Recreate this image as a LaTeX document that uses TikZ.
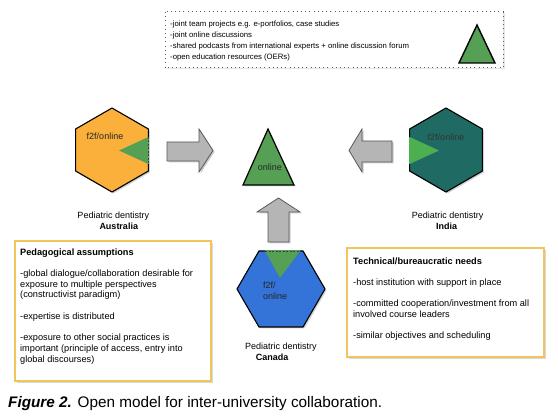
\documentclass[tikz,border=0pt]{standalone}
\usepackage{fontspec}
\setmainfont{Liberation Sans}
\usetikzlibrary{shadows}
\definecolor{ausorange}{HTML}{FBB03B}
\definecolor{indteal}{HTML}{1F6A63}
\definecolor{canblue}{HTML}{3473D8}
\definecolor{tgreen}{HTML}{55A055}
\definecolor{tgreenlight}{HTML}{4CAF50}
\definecolor{arrgray}{HTML}{B5B5B5}
\definecolor{boxborder}{HTML}{F2C55C}
\begin{document}
\begin{tikzpicture}[x=1pt,y=-1pt,
  hexa/.style={draw=black, line width=1.1pt, line join=miter,
    drop shadow={shadow xshift=1.5pt, shadow yshift=-1.5pt, opacity=0.35}},
  greentri/.style={fill=tgreen},
  blockarrow/.style={fill=arrgray, draw=black!65, line width=0.8pt, line join=miter,
    drop shadow={shadow xshift=1.5pt, shadow yshift=-1.5pt, opacity=0.4}},
  infobox/.style={draw=boxborder, line width=1.3pt, fill=white,
    drop shadow={shadow xshift=2pt, shadow yshift=-2pt, opacity=0.3}},
  topbox/.style={draw=black!65, line width=1pt, dash pattern=on 1pt off 3.2pt, fill=white,
    drop shadow={shadow xshift=1.5pt, shadow yshift=-1.5pt, opacity=0.2}},
  boxtext/.style={anchor=base west, inner sep=0pt, font=\fontsize{9.2}{10.7}\selectfont},
  toptext/.style={anchor=base west, inner sep=0pt, font=\fontsize{7.75}{10}\selectfont},
  lbl/.style={anchor=base west, inner sep=0pt, font=\fontsize{9}{10}\selectfont},
  hextext/.style={inner sep=0pt, font=\fontsize{9}{10}\selectfont, text=black!85},
  dashedge/.style={black!75, line width=0.6pt, dash pattern=on 2pt off 1.5pt}
]
\useasboundingbox (0,0) rectangle (558,419);
\fill[white] (0,0) rectangle (558,419);

% ---------- top box ----------
\draw[topbox] (165,12) rectangle (503,68);
\node[toptext] (t1) at (170,26.5) {-joint team projects e.g. e-portfolios, case studies};
\node[toptext] (t2) at (170,37.3) {-joint online discussions};
\node[toptext] (t3) at (170,48.1) {-shared podcasts from international experts + online discussion forum};
\node[toptext] (t4) at (170,59.2) {-open education resources (OERs)};
\filldraw[fill=tgreen, draw=black, line width=1.4pt, line join=miter] (477,25) -- (495,63) -- (459,63) -- cycle;

% ---------- Australia ----------
\filldraw[hexa, fill=ausorange] (112,108) -- (148.4,129) -- (148.4,171) -- (112,192) -- (75.6,171) -- (75.6,129) -- cycle;
\fill[greentri] (148.4,137) -- (148.4,164) -- (119,150.5) -- cycle;
\draw[tgreen, line width=1.4pt] (148.4,137) -- (148.4,164);
\draw[dashedge] (148.4,137) -- (148.4,164);
\node[hextext] (ausf) at (105,136) {f2f/online};
\node[lbl] (ausl1) at (77.3,218.2) {Pediatric dentistry};
\node[lbl] (ausl2) at (99.3,229.2) {\textbf{Australia}};

% ---------- India ----------
\filldraw[hexa, fill=indteal] (446,108) -- (482.4,129) -- (482.4,171) -- (446,192) -- (409.6,171) -- (409.6,129) -- cycle;
\fill[tgreenlight] (409.6,137) -- (409.6,164) -- (439,150.5) -- cycle;
\draw[tgreenlight, line width=1.4pt] (409.6,137) -- (409.6,164);
\node[hextext, text=black!80] (indf) at (446,137) {f2f/online};
\node[lbl] (indl1) at (411.7,218.2) {Pediatric dentistry};
\node[lbl] (indl2) at (436,229.2) {\textbf{India}};

% ---------- centre triangle ----------
\filldraw[fill=tgreen, draw=black, line width=1.2pt, line join=miter,
  drop shadow={shadow xshift=1.5pt, shadow yshift=-1.5pt, opacity=0.3}]
  (268,129) -- (294,185) -- (243,185) -- cycle;
\node[hextext] (onl) at (270,167) {online};

% ---------- arrows ----------
\filldraw[blockarrow] (167,142) -- (199,142) -- (199,129) -- (213,150.5) -- (199,172) -- (199,161) -- (167,161) -- cycle;
\filldraw[blockarrow] (392,141) -- (362,141) -- (362,129) -- (349,150.5) -- (362,172) -- (362,162) -- (392,162) -- cycle;
\filldraw[blockarrow] (268,242) -- (268,212) -- (257,212) -- (278.5,198) -- (300,212) -- (289,212) -- (289,242) -- cycle;

% ---------- Canada ----------
\filldraw[hexa, fill=canblue] (259,251) -- (303,251) -- (325,289) -- (303,327) -- (259,327) -- (237,289) -- cycle;
\fill[greentri] (265,251) -- (300,251) -- (280,278) -- cycle;
\draw[tgreen, line width=1.4pt] (265,251) -- (300,251);
\draw[dashedge] (265,251) -- (300,251);
\node[lbl, text=black!85] (canf1) at (263,288.5) {f2f/};
\node[lbl, text=black!85] (canf2) at (263,299.3) {online};
\node[lbl] (canl1) at (245,350) {Pediatric dentistry};
\node[lbl] (canl2) at (255.7,361) {\textbf{Canada}};

% ---------- left box ----------
\draw[infobox] (15,241) rectangle (211,381);
\node[boxtext] (p0) at (20,255.3) {\textbf{Pedagogical assumptions}};
\node[boxtext] (p1) at (20,276.5) {-global dialogue/collaboration desirable for};
\node[boxtext] (p2) at (20,287.2) {exposure to multiple perspectives};
\node[boxtext] (p3) at (20,297.9) {(constructivist paradigm)};
\node[boxtext] (p4) at (20,319.3) {-expertise is distributed};
\node[boxtext] (p5) at (20,340.7) {-exposure to other social practices is};
\node[boxtext] (p6) at (20,351.4) {important (principle of access, entry into};
\node[boxtext] (p7) at (20,362.1) {global discourses)};

% ---------- right box ----------
\draw[infobox] (347,248) rectangle (544,357);
\node[boxtext] (q0) at (353,264.3) {\textbf{Technical/bureaucratic needs}};
\node[boxtext] (q1) at (353,285.5) {-host institution with support in place};
\node[boxtext] (q2) at (353,306.7) {-committed cooperation/investment from all};
\node[boxtext] (q3) at (353,317.4) {involved course leaders};
\node[boxtext] (q4) at (353,338.6) {-similar objectives and scheduling};

% ---------- caption ----------
\node[anchor=base west, inner sep=0pt, font=\fontsize{15.3}{17}\selectfont] (cap) at (8,407.5)
  {\textbf{\textit{Figure 2.}} Open model for inter-university collaboration.};
\end{tikzpicture}
\end{document}
